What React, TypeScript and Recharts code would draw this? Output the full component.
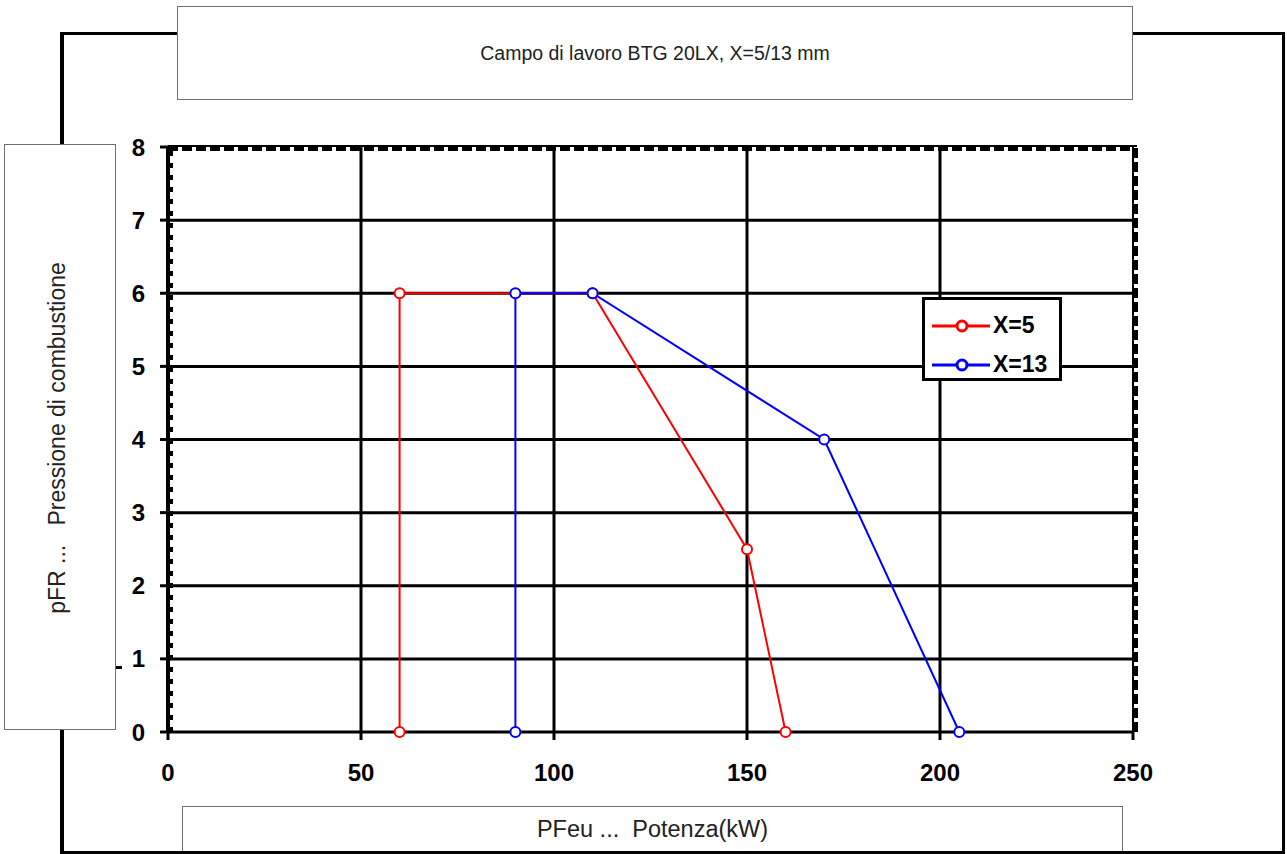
import React from "react";
import {
  ComposedChart,
  Line,
  XAxis,
  YAxis,
  CartesianGrid,
  ReferenceLine,
  Legend,
} from "recharts";

// ---- data ----
const x5Power = [60, 60, 110, 150, 160];
const x5Pressure = [0, 6, 6, 2.5, 0];
const x13Power = [90, 90, 110, 170, 205];
const x13Pressure = [0, 6, 6, 4, 0];
const xTicks = [0, 50, 100, 150, 200, 250];
const yTicks = [0, 1, 2, 3, 4, 5, 6, 7, 8];
const xGrid = [50, 100, 150, 200];
const yGrid = [1, 2, 3, 4, 5, 6, 7];
const seriesNames = ["X=5", "X=13"];
const seriesColors = ["#ff0000", "#0000ff"];
const titleText = "Campo di lavoro BTG 20LX, X=5/13 mm";
const xLabelText = "PFeu ...  Potenza(kW)";
const yLabelText = "pFR ...   Pressione di combustione";

const dataX5 = x5Power.map((x, i) => ({ x, y: x5Pressure[i] }));
const dataX13 = x13Power.map((x, i) => ({ x, y: x13Pressure[i] }));

const W = 1287;
const H = 854;
const tickFont = "'Liberation Sans', Arial, sans-serif";

const TopFrame = (p: any) => (
  <g>
    <line x1={p.x1} y1={p.y1 - 1} x2={p.x2 + 4} y2={p.y2 - 1} stroke="#000" strokeWidth={2} />
    <line x1={p.x1} y1={p.y1 + 2} x2={p.x2} y2={p.y2 + 2} stroke="#000" strokeWidth={4} strokeDasharray="10 4" />
  </g>
);

const RightFrame = (p: any) => (
  <g>
    <line x1={p.x1} y1={p.y1} x2={p.x2} y2={p.y2} stroke="#000" strokeWidth={2} />
    <line x1={p.x1 + 3} y1={p.y1} x2={p.x2 + 3} y2={p.y2} stroke="#000" strokeWidth={4} strokeDasharray="10 4" />
  </g>
);

const LeftMinor = (p: any) => (
  <line x1={p.x1 + 3} y1={p.y1} x2={p.x2 + 3} y2={p.y2} stroke="#000" strokeWidth={4} strokeDasharray="5 7" />
);

const LegendBox = () => (
  <div
    style={{
      position: "relative",
      width: 140,
      height: 84,
      boxSizing: "border-box",
      border: "3px solid #000",
      background: "#fff",
    }}
  >
    {seriesNames.map((n, i) => (
      <React.Fragment key={n}>
        <svg
          width={60}
          height={20}
          style={{ position: "absolute", left: 7, top: 16 + i * 39 }}
        >
          <line x1={0} y1={10} x2={58} y2={10} stroke={seriesColors[i]} strokeWidth={3} />
          <circle cx={30} cy={10} r={5} fill="#fff" stroke={seriesColors[i]} strokeWidth={3} />
        </svg>
        <span
          style={{
            position: "absolute",
            left: 68,
            top: 12 + i * 39,
            lineHeight: "26px",
            fontFamily: tickFont,
            fontWeight: "bold",
            fontSize: 23,
            color: "#000",
            whiteSpace: "nowrap",
          }}
        >
          {n}
        </span>
      </React.Fragment>
    ))}
  </div>
);

export default function App() {
  return (
    <div
      style={{
        position: "absolute",
        left: 0,
        top: 0,
        width: W,
        height: H,
        background: "#fff",
        overflow: "hidden",
      }}
    >
      {/* outer frame */}
      <div
        style={{
          position: "absolute",
          left: 60,
          top: 32,
          width: 1225,
          height: 822,
          boxSizing: "border-box",
          border: "3px solid #000",
          borderLeftWidth: 4,
        }}
      />
      <div style={{ position: "absolute", left: 0, top: 0 }}>
        <ComposedChart
          width={W}
          height={H}
          margin={{ top: 147, right: 154, bottom: 72, left: 108 }}
        >
          <CartesianGrid
            stroke="#000"
            strokeWidth={3}
            horizontalValues={yGrid}
            verticalValues={xGrid}
          />
          <XAxis
            type="number"
            dataKey="x"
            domain={[0, 250]}
            ticks={xTicks}
            height={50}
            axisLine={{ stroke: "#000", strokeWidth: 3 }}
            tickLine={{ stroke: "#000", strokeWidth: 3 }}
            tickSize={8}
            tickMargin={24}
            tick={{ fill: "#000", fontFamily: tickFont, fontWeight: "bold", fontSize: 24 }}
            interval={0}
          />
          <YAxis
            type="number"
            dataKey="y"
            domain={[0, 8]}
            ticks={yTicks}
            width={60}
            axisLine={{ stroke: "#000", strokeWidth: 4 }}
            tickLine={{ stroke: "#000", strokeWidth: 3 }}
            tickSize={8}
            tickMargin={15}
            tick={{ fill: "#000", fontFamily: tickFont, fontWeight: "bold", fontSize: 24 }}
            interval={0}
          />
          <ReferenceLine x={0} shape={LeftMinor} />
          <ReferenceLine y={8} shape={TopFrame} />
          <ReferenceLine x={250} shape={RightFrame} />
          <Line
            data={dataX5}
            dataKey="y"
            name={seriesNames[0]}
            type="linear"
            stroke={seriesColors[0]}
            strokeWidth={2}
            dot={{ r: 5, stroke: seriesColors[0], strokeWidth: 2, fill: "#fff" }}
            activeDot={false}
            isAnimationActive={false}
          />
          <Line
            data={dataX13}
            dataKey="y"
            name={seriesNames[1]}
            type="linear"
            stroke={seriesColors[1]}
            strokeWidth={2}
            dot={{ r: 5, stroke: seriesColors[1], strokeWidth: 2, fill: "#fff" }}
            activeDot={false}
            isAnimationActive={false}
          />
          <Legend
            layout="vertical"
            align="center"
            verticalAlign="middle"
            content={() => <LegendBox />}
            wrapperStyle={{ position: "absolute", left: 922, top: 297, width: 140, height: 84 }}
          />
        </ComposedChart>
      </div>
      {/* title box */}
      <div
        style={{
          position: "absolute",
          left: 177,
          top: 6,
          width: 956,
          height: 94,
          boxSizing: "border-box",
          border: "1.5px solid #707070",
          background: "#fff",
          display: "flex",
          alignItems: "center",
          justifyContent: "center",
          fontFamily: tickFont,
          fontSize: 19.5,
          color: "#222",
        }}
      >
        {titleText}
      </div>
      {/* y label box */}
      <div
        style={{
          position: "absolute",
          left: 4,
          top: 144,
          width: 112,
          height: 586,
          boxSizing: "border-box",
          border: "1.5px solid #707070",
          background: "#fff",
        }}
      >
        <div
          style={{
            position: "absolute",
            left: 52,
            top: 293,
            transform: "translate(-50%, -50%) rotate(-90deg)",
            whiteSpace: "pre",
            fontFamily: tickFont,
            fontSize: 23,
            color: "#222",
          }}
        >
          {yLabelText}
        </div>
      </div>
      {/* small mark */}
      <div style={{ position: "absolute", left: 116, top: 666, width: 6, height: 3, background: "#000" }} />
      {/* x label box */}
      <div
        style={{
          position: "absolute",
          left: 182,
          top: 806,
          width: 941,
          height: 45,
          boxSizing: "border-box",
          border: "1.5px solid #707070",
          borderBottom: "none",
          background: "#fff",
          display: "flex",
          alignItems: "center",
          justifyContent: "center",
          whiteSpace: "pre",
          fontFamily: tickFont,
          fontSize: 23.5,
          color: "#222",
        }}
      >
        {xLabelText}
      </div>
    </div>
  );
}
